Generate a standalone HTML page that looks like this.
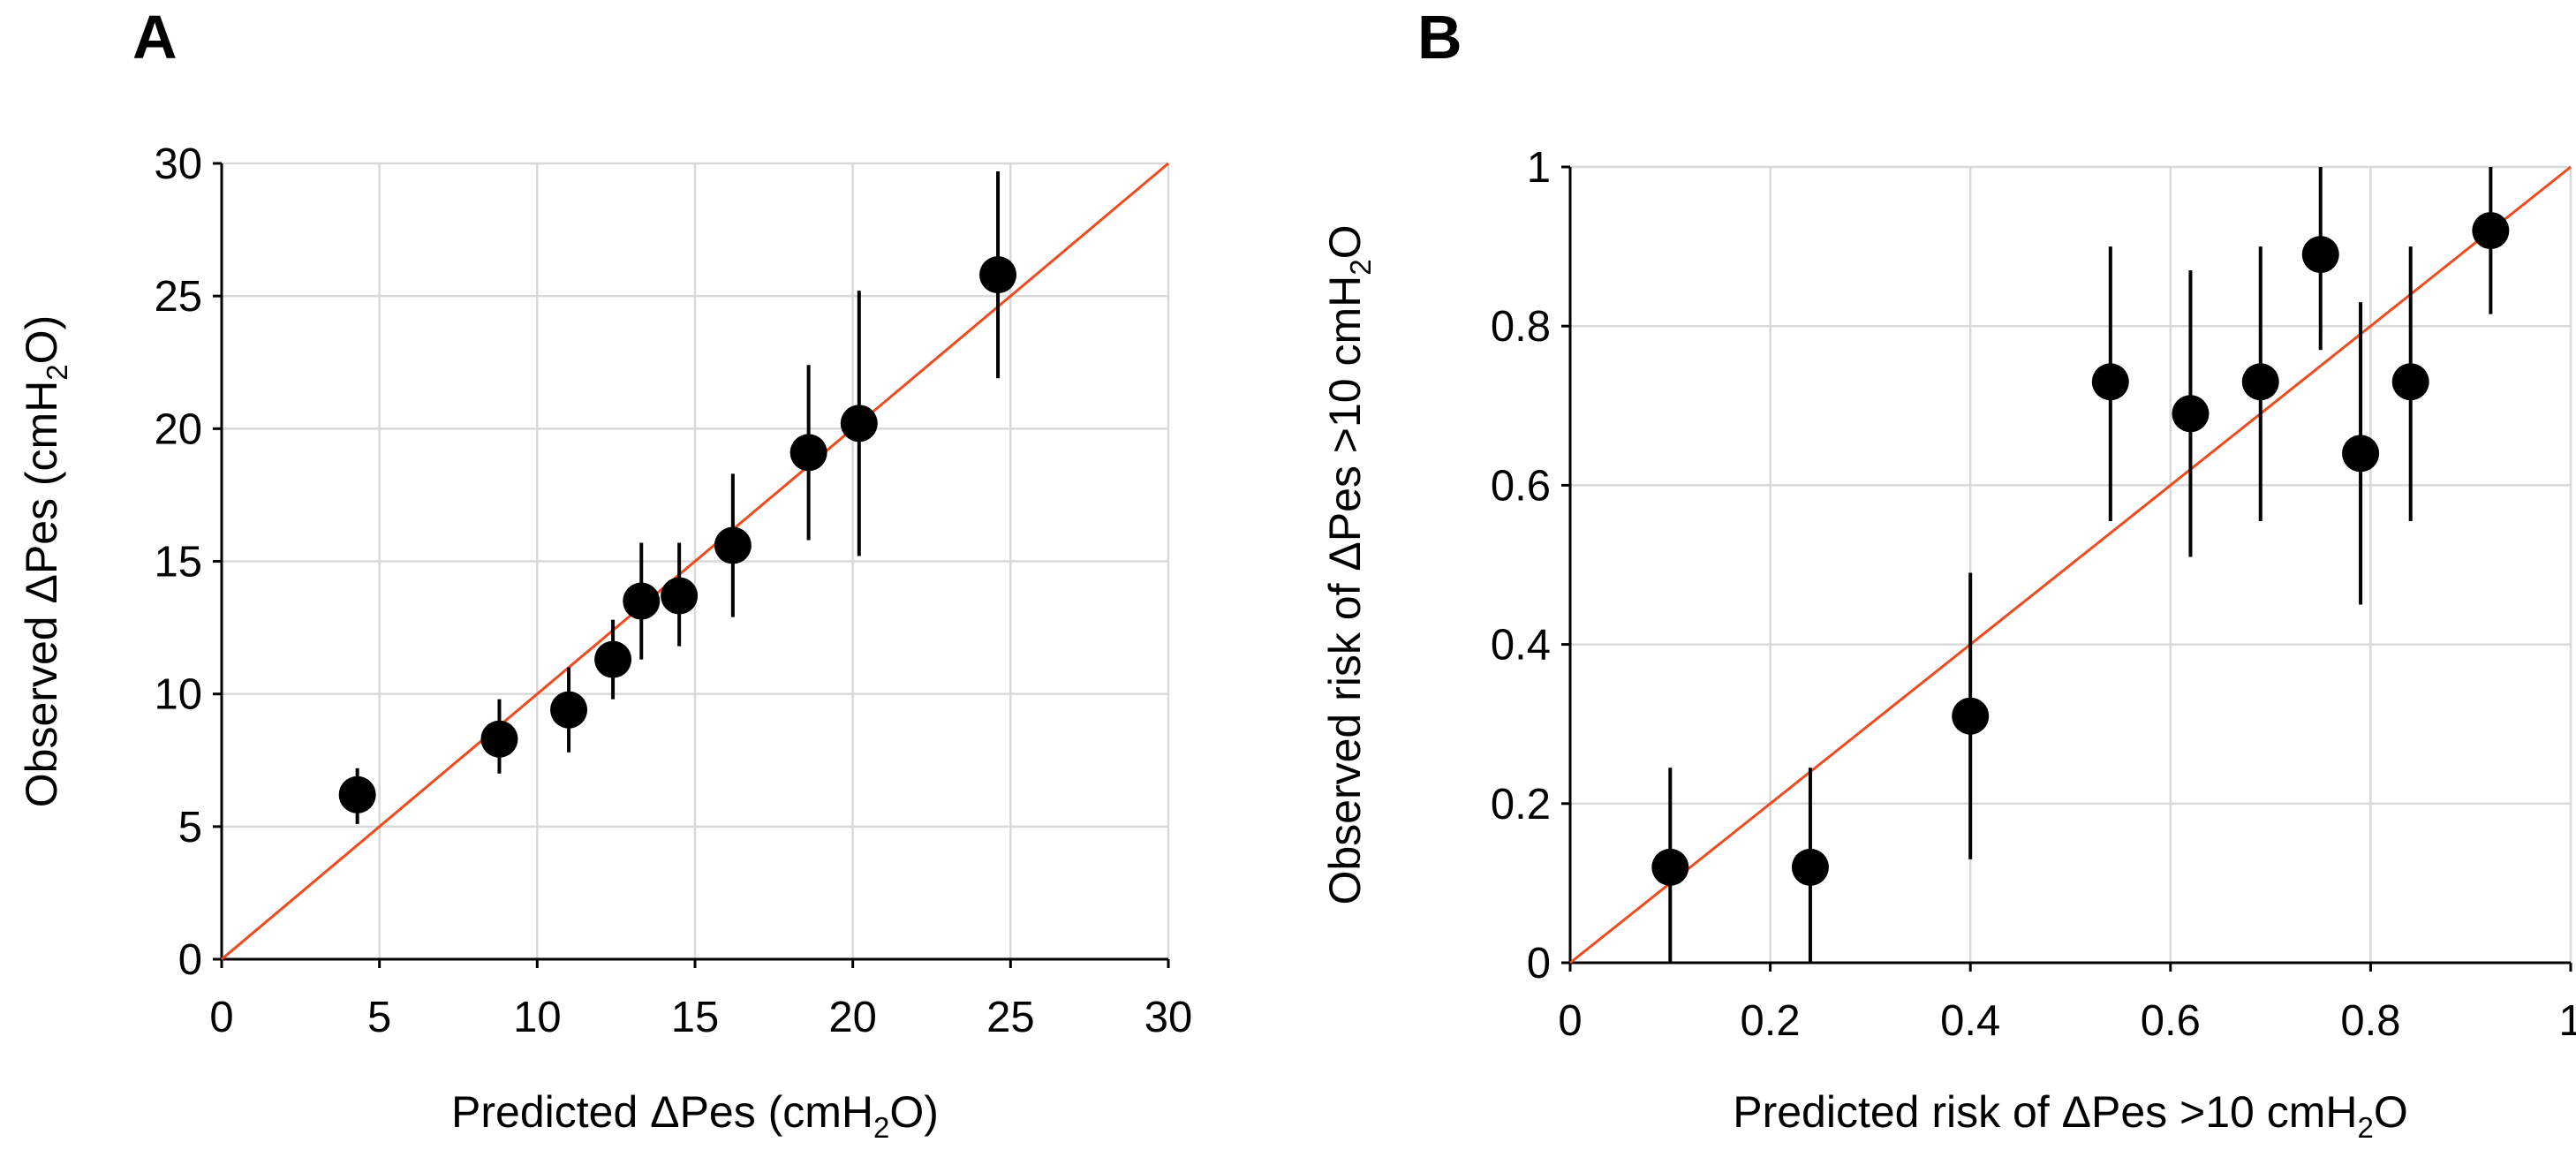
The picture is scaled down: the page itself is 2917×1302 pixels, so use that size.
<!DOCTYPE html>
<html><head><meta charset="utf-8"><style>
html,body{margin:0;padding:0;background:#fff;}
svg{display:block;font-family:"Liberation Sans",Arial,sans-serif;}
</style></head><body>
<svg id="fig" width="2917" height="1302" viewBox="0 0 2917 1302"></svg>
<script>
// Panel A data
const aPred = [4.3, 8.8, 11.0, 12.4, 13.3, 14.5, 16.2, 18.6, 20.2, 24.6];
const aObs  = [6.2, 8.3, 9.4, 11.3, 13.5, 13.7, 15.6, 19.1, 20.2, 25.8];
const aLo   = [5.1, 7.0, 7.8, 9.8, 11.3, 11.8, 12.9, 15.8, 15.2, 21.9];
const aHi   = [7.2, 9.8, 11.0, 12.8, 15.7, 15.7, 18.3, 22.4, 25.2, 29.7];
const aTicks = [0, 5, 10, 15, 20, 25, 30];
const aTickLabels = ["0","5","10","15","20","25","30"];
// Panel B data
const bPred = [0.10, 0.24, 0.40, 0.54, 0.62, 0.69, 0.75, 0.79, 0.84, 0.92];
const bObs  = [0.12, 0.12, 0.31, 0.73, 0.69, 0.73, 0.89, 0.64, 0.73, 0.92];
const bLo   = [0.0, 0.0, 0.13, 0.555, 0.51, 0.555, 0.77, 0.45, 0.555, 0.815];
const bHi   = [0.245, 0.245, 0.49, 0.90, 0.87, 0.90, 1.0, 0.83, 0.90, 1.0];
const bTicks = [0, 0.2, 0.4, 0.6, 0.8, 1];
const bTickLabels = ["0","0.2","0.4","0.6","0.8","1"];

const NS = "http://www.w3.org/2000/svg";
const svg = document.getElementById("fig");
function mk(tag, attrs, parent, text){
  const e = document.createElementNS(NS, tag);
  for (const k in attrs) e.setAttribute(k, attrs[k]);
  if (text !== undefined) e.textContent = text;
  (parent||svg).appendChild(e);
  return e;
}

function panel(cfg){
  const g = mk("g", {});
  
  
  const sx = v => cfg.x0 + (v - cfg.min) / (cfg.max - cfg.min) * (cfg.x1 - cfg.x0);
  const sy = v => cfg.y0 - (v - cfg.min) / (cfg.max - cfg.min) * (cfg.y0 - cfg.y1);
  cfg.ticks.forEach((t, i) => {
    if (i === 0) return;
    const gv = mk("line", {x1: sx(t), x2: sx(t), y1: cfg.y1, y2: cfg.y0, stroke: "#d9d9d9", "stroke-width": 2.5}, g);
    
    
    const gh = mk("line", {x1: cfg.x0, x2: cfg.x1, y1: sy(t), y2: sy(t), stroke: "#d9d9d9", "stroke-width": 2.5}, g);
    
    
  });
  const ax = mk("line", {x1: cfg.x0, x2: cfg.x1, y1: cfg.y0, y2: cfg.y0, stroke: "#000", "stroke-width": 3}, g);
  
  
  const ay = mk("line", {x1: cfg.x0, x2: cfg.x0, y1: cfg.y1, y2: cfg.y0, stroke: "#000", "stroke-width": 3}, g);
  
  
  cfg.ticks.forEach((t, i) => {
    mk("line", {x1: sx(t), x2: sx(t), y1: cfg.y0, y2: cfg.y0 + 10, stroke: "#000", "stroke-width": 3}, g);
    mk("line", {x1: cfg.x0 - 10, x2: cfg.x0, y1: sy(t), y2: sy(t), stroke: "#000", "stroke-width": 3}, g);
    const xl = mk("text", {x: sx(t), y: cfg.y0 + 82, "font-size": 49, "text-anchor": "middle", fill: "#000"}, g, cfg.labels[i]);
    
    
    const yl = mk("text", {x: cfg.x0 - 22, y: sy(t) + 17, "font-size": 49, "text-anchor": "end", fill: "#000"}, g, cfg.labels[i]);
    
    
  });
  const idl = mk("line", {x1: sx(cfg.min), y1: sy(cfg.min), x2: sx(cfg.max), y2: sy(cfg.max), stroke: "#f04a1e", "stroke-width": 3}, g);
  
  
  cfg.px.forEach((p, i) => {
    const eb = mk("line", {x1: sx(p), x2: sx(p), y1: sy(cfg.lo[i]), y2: sy(cfg.hi[i]), stroke: "#000", "stroke-width": 4}, g);
    
    
    const c = mk("circle", {cx: sx(p), cy: sy(cfg.py[i]), r: 21, fill: "#000"}, g);
    
    
  });
  const pl = mk("text", {x: cfg.letterX, y: 66, "font-size": 70, "font-weight": "bold", fill: "#000"}, g, cfg.letter);
  
  
  const xt = mk("text", {x: (cfg.x0 + cfg.x1) / 2, y: 1276, "font-size": 50, "text-anchor": "middle", fill: "#000"}, g);
  
  
  xt.innerHTML = cfg.xTitle;
  const yt = mk("text", {x: 0, y: 0, "font-size": 50, "text-anchor": "middle", fill: "#000",
    transform: "translate(" + cfg.yTitleX + "," + ((cfg.y0 + cfg.y1) / 2) + ") rotate(-90)"}, g);
  
  
  yt.innerHTML = cfg.yTitle;
}

const sub = '<tspan font-size="33" dy="12">2</tspan><tspan dy="-12">O)</tspan>';
const subB = '<tspan font-size="33" dy="12">2</tspan><tspan dy="-12">O</tspan>';
panel({name: "panel-a", letter: "A", letterX: 150, x0: 251, x1: 1323, y0: 1086, y1: 185, min: 0, max: 30,
  ticks: aTicks, labels: aTickLabels, px: aPred, py: aObs, lo: aLo, hi: aHi, yTitleX: 64,
  xTitle: "Predicted ΔPes (cmH" + sub, yTitle: "Observed ΔPes (cmH" + sub});
panel({name: "panel-b", letter: "B", letterX: 1605, x0: 1778, x1: 2911, y0: 1090, y1: 189, min: 0, max: 1,
  ticks: bTicks, labels: bTickLabels, px: bPred, py: bObs, lo: bLo, hi: bHi, yTitleX: 1540,
  xTitle: "Predicted risk of ΔPes &gt;10 cmH" + subB, yTitle: "Observed risk of ΔPes &gt;10 cmH" + subB});
</script>
</body></html>
